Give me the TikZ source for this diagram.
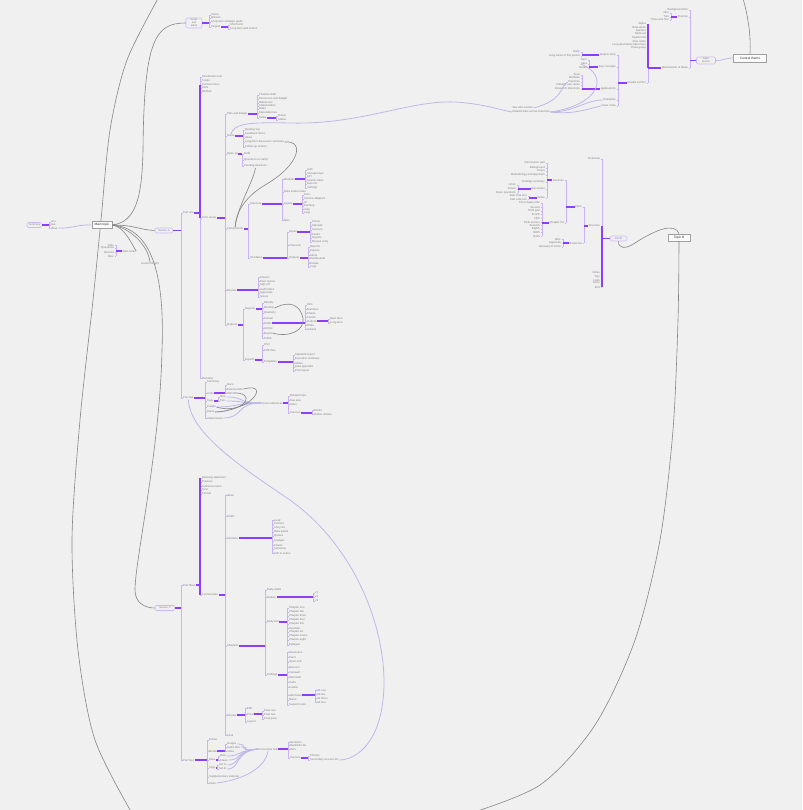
\documentclass[tikz,border=0pt]{standalone}
\usepackage{fontspec}
\setmainfont{Liberation Sans}
\definecolor{bgc}{HTML}{F0F0F0}
\definecolor{vio}{HTML}{8A3FFC}
\definecolor{lav}{HTML}{C9B2F8}
\definecolor{lavc}{HTML}{BDB8E8}
\definecolor{gcc}{HTML}{858585}
\definecolor{txg}{HTML}{808080}
\definecolor{nbd}{HTML}{CDB8F6}
\tikzset{
 lbl/.style={font=\fontsize{2.8}{3.2}\selectfont, text=txg, inner sep=0.3pt},
 br/.style={draw=lav, line width=0.7pt},
 hot/.style={draw=vio, line width=1.2pt},
 gc/.style={draw=gcc, line width=0.6pt},
 lc/.style={draw=lavc, line width=0.8pt},
 rnode/.style={draw=nbd, line width=0.6pt, rounded corners=1.5pt, fill=bgc, font=\fontsize{2.6}{3}\selectfont, text=txg, inner sep=0.5pt, align=center},
 boxn/.style={draw=gray!75, line width=0.7pt, fill=white!70!bgc, font=\fontsize{3.2}{3.6}\selectfont, text=black!80, inner sep=0.5pt},
}
% right-growing group: #1 parent node, #2 bracket x, #3 ymin, #4 ymax, #5 list y/text, #6 group name
\newcommand\grpR[6]{%
  \coordinate (#6X) at (#2,0);
  \draw[br] (#2,#3) -- (#2,#4);
  \foreach \yy/\lb in {#5} {\draw[br] (#2,\yy) -- ++(1.5,0) node[lbl,anchor=west] (#6\yy) {\lb};}
  \draw[hot] (#1.east) -- (#1.east -| #6X);
}
\newcommand\grpL[6]{%
  \coordinate (#6X) at (#2,0);
  \draw[br] (#2,#3) -- (#2,#4);
  \foreach \yy/\lb in {#5} {\draw[br] (#2,\yy) -- ++(-1.5,0) node[lbl,anchor=east] (#6\yy) {\lb};}
  \draw[hot] (#1.west) -- (#1.west -| #6X);
}
\begin{document}
\begin{tikzpicture}[x=1pt,y=-1pt]
\fill[bgc] (0,0) rectangle (802,810);
\useasboundingbox (0,0) rectangle (802,810);
\clip (0,0) rectangle (802,810);

% ---------- big outer curves ----------
\draw[gc] plot[smooth] coordinates {(160,-5) (127,60) (110,130) (101,220) (93,300) (80,420) (72,540) (78,650) (95,740) (133,815)};

% ---------- root ----------
\node[boxn, minimum width=20pt, minimum height=7pt] (root) at (102,225) {Main topic};
\node[rnode, minimum width=15pt, minimum height=5pt] (L) at (34.5,225) {Summary};
\grpR{L}{49}{222}{228}{222/one,225/two,228/three}{la}
\draw[lc] (la228.east) .. controls (70,229) and (80,224) .. (root.west);

\node[rnode, minimum width=16pt, minimum height=10pt] (N1) at (194,23) {Goals\\and\\plans};
\grpR{N1}{209}{15}{27}{15/Vision,18/Mission,22/Long-term strategic goals,27/Targets}{na}
\grpR{na27}{228}{25}{29}{25/Short term,29/Long term and stretch}{nb}

\node[lbl, anchor=west] (zb) at (122,251) {Side notes};
\grpL{zb}{116}{245}{256}{245/Todo,248/Questions,252/Idea list,256/Misc}{za}
\node[lbl] (T) at (150,264) {Loose thought};

\node[rnode, minimum width=18pt, minimum height=5pt] (N2) at (164,230.5) {Section A};
\node[rnode, minimum width=20pt, minimum height=5pt] (N3) at (165,608) {Section C};

\draw[gc] (root.east) .. controls (135,222) and (142,200) .. (143,150) .. controls (144,40) and (155,23) .. (N1.west);
\draw[gc] (root.east) .. controls (135,225) and (140,230) .. (N2.west);
\draw[gc] (root.east) .. controls (125,227) and (132,245) .. (zb.east);
\draw[gc] (root.east) .. controls (130,228) and (148,245) .. (T.north);
\draw[gc] (root.east) .. controls (150,228) and (165,270) .. (162,350) .. controls (160,450) and (135,560) .. (135,590) .. controls (135,603) and (145,608) .. (N3.west);

% ---------- upper left tree ----------
\grpR{N2}{181}{213}{398}{213/Part one,398/Part two}{ta}
\grpR{ta213}{200}{77}{378}{77/Introduction text,81/Scope,85/Context notes,88/Aims,92/Method,218/Core areas,378/Remarks}{ua}
\draw[hot] (200,85) -- (200,218);
\grpR{ua218}{225}{114}{325}{114/Plan and design,136/Notes,154/Open qs,229/Components,290/Review,325/Outputs}{ub}
\grpR{ub114}{257}{95}{118}{95/Timeline draft,99/Resources and budget,103/Milestones,106/Stakeholders,109/Risks,113/Dependencies,118/Tasks}{uc}
\grpR{uc118}{276}{116}{120}{116/Owner,120/Status}{uk}
\grpR{ub136}{243}{130}{147}{130/Meeting log,134/Feedback items,138/Ideas,142/Long-form discussion summary,147/Follow-up actions}{ud}
\grpR{ub154}{242}{154}{166}{154/Draft,160/Questions to clarify,166/Pending decisions}{ue}
\grpR{ub229}{248}{204}{258}{204/Structure,258/Interfaces}{uf}
\grpR{uf204}{282}{179}{220}{179/Modules,192/Data model notes,204/Layers,220/Misc}{ufa}
\grpR{ufa179}{305}{170}{188}{170/Auth,174/Storage layer,177/API,181/Search index,184/Reports,188/Settings}{ufb}
\grpR{ufa204}{302}{195}{213}{195/Core,199/Service adapters,203/UI,206/Caching,209/Jobs,213/Logs}{ufc}
\grpR{uf258}{287}{232}{258}{232/Inputs,245/Protocols,258/Outputs}{ufd}
\grpR{ufd232}{310}{222}{242}{222/Forms,226/Uploads,230/Sensors,234/Feeds,238/Imports,242/Manual entry}{ufe}
\grpR{ufd258}{308}{247}{267}{247/Reports,251/Exports,255/Alerts,258/Dashboards,263/Emails,267/Logs}{uff}
\grpR{ub290}{258}{277}{297}{277/Checks,281/Peer review,285/Sign-off,289/Audit notes,293/Approvals,297/Issues}{ug}
\grpR{ub325}{243}{309}{360}{309/Reports,360/Exports}{uh}
\grpR{uh309}{262}{303}{338}{303/Weekly,308/Monthly,313/Quarterly,318/Annual,323/Drafts,328/Ad hoc,333/Board,338/Public}{uha}
\grpR{uha323}{305}{305}{329}{305/Intro,309/Numbers,313/Charts,317/Trends,321/Outlook,325/Risks,329/Actions}{uhb}
\grpR{uhb321}{328}{319}{323}{319/Near term,323/Long term}{uhe}
\grpR{uh360}{262}{345}{362}{345/CSV,350/PDF files,362/Templates}{uhc}
\grpR{uhc362}{293}{355}{371}{355/Standard report,359/Executive summary,363/Slides,367/Data appendix,371/Print layout}{uhd}
\draw[gc] (ud142.east) .. controls (305,140) and (300,165) .. (265,185) .. controls (245,197) and (236,212) .. (ub229.north);
\draw[gc] (ue166.south) .. controls (252,185) and (238,205) .. (ub229.north);
\draw[gc] (uha308.east) .. controls (290,300) and (300,305) .. (303,318) .. controls (305,330) and (290,338) .. (uha333.east);

\grpR{ta398}{205}{382}{418}{382/Summary,393/Links,401/Tags,407/People,412/Dates,418/Attachments}{va}
\grpR{va393}{225}{385}{393}{385/Docs,389/External refs,393/Wiki}{vb}
\grpR{va401}{218}{397}{401}{397/One,401/Two}{vc}
\node[lbl,anchor=west] (cr) at (261,403) {Cross references};
\grpR{cr}{288}{396}{413}{396/Related topic,400/See also,404/Index,413/Sources}{vd}
\grpR{vd413}{312}{410}{414}{410/Books,414/Online articles}{ve}
\foreach \s in {vc397,vc401,va407,va412,va418} \draw[lc] (\s.east) .. controls +(20,0) and +(-25,0) .. (cr.west);
\draw[gc] (vb389.east) .. controls +(30,-8) and +(30,10) .. (va407.east);
\draw[gc] (vb393.east) .. controls (255,392) and (250,410) .. (va412.east);

% ---------- bottom tree ----------
\grpR{N3}{181}{585}{760}{585/Part three,760/Part four}{ba}
\grpR{ba585}{200}{478}{595}{478/Opening statement,482/Purpose,486/Audience notes,490/Tone,494/Format,595/Content plan}{bb}
\draw[hot] (200,478) -- (200,595);
\grpR{bb595}{225}{495}{735}{495/Ideas,516/Drafts,538/Sections,646/Chapters,715/Review,735/Final}{bc}
\grpR{bc538}{272}{520}{553}{520/Lead,524/Context,528/Story arc,532/Data points,536/Quotes,541/Analysis,545/Charts,549/Summary,553/Call to action}{bd}
\grpR{bc646}{265}{590}{675}{590/Early drafts,597/Outline,622/Body text,675/Endings}{be}
\grpR{be597}{313}{593}{601}{593/v1,597/v2,601/v3}{bf}
\grpR{be622}{287}{608}{645}{608/Chapter one,612/Chapter two,616/Chapter three,620/Chapter four,624/Chapter five,628/Interlude,632/Chapter six,636/Chapter seven,640/Chapter eight,645/Epilogue}{bg}
\grpR{be675}{287}{652}{705}{652/Resolution,657/Twist,662/Open end,667/Reunion,672/Farewell,677/Aftermath,682/Coda,687/Credits,695/Alternates,700/Notes,705/Sequel hooks}{bh}
\grpR{bh695}{315}{690}{702}{690/Alt one,694/Alt two,698/Alt three,702/Alt four}{bi}
\grpR{bc715}{245}{708}{722}{708/Edit,714/Proof,722/Layout}{bj}
\grpR{bj714}{262}{711}{719}{711/Pass one,715/Pass two,719/Final pass}{bk}
\grpR{ba760}{207}{740}{783}{740/Extras,751/Media,760/Data,768/Tags,777/Supplementary material,783/Index}{bm}
\grpR{bm751}{225}{744}{751}{744/Images,747/Audio files,751/Video}{bn}
\grpR{bm760}{218}{756}{760}{756/Raw,760/Clean}{bo}
\grpR{bm768}{217}{765}{769}{765/Set A,769/Set B}{bp}
\node[lbl,anchor=west] (hb) at (258,749) {Cross-links hub};
\grpR{hb}{288}{742}{758}{742/Mentions,745/Backlinks list,749/Refs,758/Sources}{bq}
\grpR{bq758}{308}{756}{760}{756/Primary,760/Secondary sources list}{bs}
\foreach \s in {bn744,bn747,bo756,bo760,bp765,bp769} \draw[lc] (\s.east) .. controls +(15,0) and +(-25,3) .. (hb.west);
\draw[lc] (bm783.east) .. controls (240,780) and (265,770) .. (hb.south);

% long lavender connectors
\draw[lc] (ub136.north) .. controls (234,124) and (245,122) .. (290,123) .. controls (360,125) and (410,100) .. (455,102) .. controls (485,104) and (500,110) .. (512,112);
\draw[lc] (ta398.south) .. controls (190,430) and (230,460) .. (290,500) .. controls (360,550) and (390,640) .. (383,700) .. controls (378,745) and (355,760) .. (bs760.east);

% ---------- top right tree ----------
\node[boxn, minimum width=33pt, minimum height=8pt] (TR) at (750,58) {Central theme};
\node[rnode, minimum width=19pt, minimum height=7pt] (N4) at (706,60.5) {Topic\\branch};
\draw[lc] (TR.west) .. controls (725,58) and (722,61) .. (N4.east);
\draw[gc] (TR.north) .. controls (751,35) and (748,15) .. (742,-5);
\grpL{N4}{690}{10}{68}{10/Background info,17/Themes,68/Main branch of ideas}{ka}
\grpL{ka17}{671}{13}{20}{13/One,17/Two,20/Three and four}{kb}
\grpL{ka68}{648}{24}{83}{24/Alpha,28/Beta items,31/Gamma,34/Delta set,38/Epsilon list,42/Zeta notes,45/Long descriptive label here,48/Theta group,83/Details section}{kc}
\draw[hot] (648,24) -- (648,68);
\grpL{kc83}{618}{55}{106}{55/Origins story,67/Key concepts,89/Applications,100/Examples,106/Case notes}{kd}
\grpL{kd55}{582}{52}{56}{52/Early,56/Long name of first period}{ke}
\grpL{kd67}{589}{60}{68}{60/Term,64/Idea,68/Model}{kf}
\grpL{kd89}{582}{75}{89}{75/Tools,78/Methods,82/Practices,85/Industry use cases,89/Research directions}{kg}
\node[lbl,anchor=west] (X) at (512,112) {Related links across branches};
\node[lbl,anchor=west] (Xb) at (512,108) {See also section};
\draw[lc] (X.east) .. controls (575,112) and (585,100) .. (kd100.west);
\draw[lc] (X.east) .. controls (575,115) and (590,108) .. (kd106.west);
\draw[lc] (X.east) .. controls (600,105) and (610,75) .. (kf64.west);
\draw[lc] (Xb.east) .. controls (565,100) and (560,85) .. (kg82.west);

% ---------- right middle tree ----------
\node[boxn, minimum width=22pt, minimum height=7pt] (RM) at (679,237.5) {Topic B};
\node[rnode, minimum width=17pt, minimum height=5pt] (N5) at (618.5,238.5) {Part B};
\draw[gc] (RM.north) .. controls (675,222) and (655,230) .. (635,243) .. controls (625,250) and (618,248) .. (N5.south);
\draw[gc] plot[smooth] coordinates {(679,241) (678,320) (673,430) (660,540) (635,640) (595,725) (540,785) (465,815)};
\grpL{N5}{602}{159}{287}{159/Overview,226/Structure,273/Notes,277/Tips,280/Links,283/More,287/End}{ma}
\draw[hot] (602,226) -- (602,287);
\grpL{ma226}{584}{207}{243}{207/Parts,243/Extras list}{mb}
\grpL{mb207}{566}{180}{223}{180/Sections,223/Chapter list}{mc}
\grpL{mc180}{547}{163}{198}{163/Introduction part,168/Background,171/Scope,175/Methodology and approach,182/Findings summary,189/Discussion,198/Notes}{md}
\grpL{md189}{518}{185}{193}{185/Limits,189/Future,193/Open questions}{me}
\grpL{md198}{529}{196}{199}{196/Side note one,199/Side note two}{mf}
\grpL{mc223}{542}{203}{236}{203/First chapter title,207/Second,211/Third part,214/Fourth,218/Fifth,222/Sixth section,225/Seventh,229/Eighth,232/Ninth,236/Tenth}{mg}
\grpL{mb243}{563}{239}{247}{239/Misc,243/Appendix,247/Glossary of terms}{mh}
\end{tikzpicture}
\end{document}
